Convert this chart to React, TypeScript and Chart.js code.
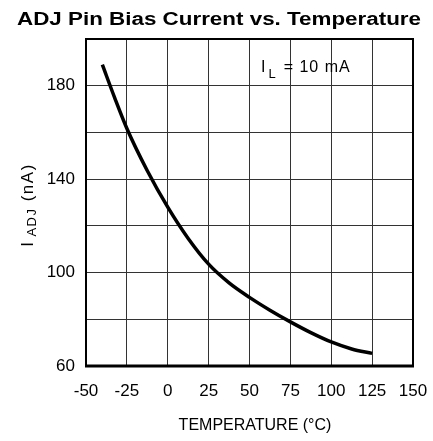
import React, { useEffect, useRef } from "react";
import { Chart, registerables } from "chart.js";

Chart.register(...registerables);

const temperatures = [-40, -32.5, -25, -12.5, 0, 12.5, 25, 37.5, 50, 62.5, 75, 87.5, 100, 112.5, 125];
const biasCurrent = [189, 174.9, 161.7, 143.6, 128, 114.6, 103.6, 95.6, 89.4, 83.9, 78.9, 74.3, 70.3, 67.3, 65.4];
const yLabeled = [60, 100, 140, 180];

const FONT = "'Liberation Sans', Arial, sans-serif";

const overlay = {
  id: "overlay",
  afterDraw(chart: any) {
    const { ctx, chartArea } = chart;
    const { left, right, top, bottom } = chartArea;
    ctx.save();
    // border
    ctx.strokeStyle = "#000";
    ctx.lineWidth = 2;
    ctx.strokeRect(left, top, right - left, bottom - top);
    ctx.lineWidth = 3;
    ctx.beginPath();
    ctx.moveTo(left - 1, bottom);
    ctx.lineTo(right + 1, bottom);
    ctx.stroke();

    ctx.fillStyle = "#000";
    // title (stretched horizontally to match reference width)
    ctx.save();
    ctx.font = `bold 18px ${FONT}`;
    ctx.textAlign = "center";
    ctx.textBaseline = "alphabetic";
    const title = "ADJ Pin Bias Current vs. Temperature";
    const tw = ctx.measureText(title).width;
    const sx = 404 / tw;
    ctx.translate(219, 25);
    ctx.scale(sx, 1);
    ctx.fillText(title, 0, 0);
    ctx.restore();

    // annotation I_L = 10 mA
    ctx.save();
    ctx.textAlign = "left";
    ctx.font = `16px ${FONT}`;
    let x = 261;
    const by = 72;
    ctx.fillText("I", x, by);
    x += ctx.measureText("I").width + 3;
    ctx.font = `13px ${FONT}`;
    ctx.fillText("L", x, by + 6);
    x += ctx.measureText("L").width + 8;
    ctx.font = `16px ${FONT}`;
    (ctx as any).letterSpacing = "1px";
    ctx.fillText("= 10 mA", x, by);
    ctx.restore();

    // x axis title
    ctx.save();
    ctx.textAlign = "center";
    ctx.font = `16px ${FONT}`;
    ctx.fillText("TEMPERATURE (\u00B0C)", 255, 430);
    ctx.restore();

    // y axis title (rotated)
    ctx.save();
    ctx.translate(33, 205);
    ctx.rotate(-Math.PI / 2);
    ctx.textAlign = "left";
    (ctx as any).letterSpacing = "1.5px";
    const parts: [string, number, number][] = [
      ["I", 17, 0],
      ["ADJ", 13, 3],
      [" (nA)", 17, 0],
    ];
    const gap = 4;
    let total = 0;
    parts.forEach(([t, s], i) => {
      ctx.font = `${s}px ${FONT}`;
      total += ctx.measureText(t).width + (i === 0 ? gap : 0);
    });
    let px = -total / 2;
    parts.forEach(([t, s, dy], i) => {
      ctx.font = `${s}px ${FONT}`;
      ctx.fillText(t, px, dy);
      px += ctx.measureText(t).width + (i === 0 ? gap : 0);
    });
    ctx.restore();

    ctx.restore();
  },
};

export default function App() {
  const ref = useRef<HTMLCanvasElement | null>(null);
  useEffect(() => {
    document.body.style.margin = "0";
    if (!ref.current) return;
    const chart = new Chart(ref.current, {
      type: "line",
      data: {
        datasets: [
          {
            data: temperatures.map((t, i) => ({ x: t, y: biasCurrent[i] })),
            borderColor: "#000",
            borderWidth: 3.5,
            pointRadius: 0,
            cubicInterpolationMode: "monotone",
            fill: false,
          },
        ],
      },
      options: {
        responsive: false,
        animation: false,
        layout: { padding: { top: 39, right: 20, left: 0, bottom: 0 } },
        plugins: { legend: { display: false }, tooltip: { enabled: false }, title: { display: false } },
        scales: {
          x: {
            type: "linear",
            min: -50,
            max: 150,
            afterFit: (s: any) => {
              s.height = 75;
              s.paddingLeft = 0;
              s.paddingRight = 0;
            },
            ticks: {
              stepSize: 25,
              padding: 15,
              color: "#000",
              font: { family: FONT, size: 17 },
              maxRotation: 0,
              autoSkip: false,
            },
            grid: { color: "#333", lineWidth: 1, drawTicks: false },
            border: { display: false },
          },
          y: {
            type: "linear",
            min: 60,
            max: 200,
            afterFit: (s: any) => {
              s.width = 86;
              s.paddingTop = 0;
              s.paddingBottom = 0;
            },
            ticks: {
              stepSize: 20,
              padding: 11,
              color: "#000",
              font: { family: FONT, size: 17 },
              callback: (v: any) => (yLabeled.includes(Number(v)) ? String(v) : ""),
            },
            grid: { color: "#333", lineWidth: 1, drawTicks: false },
            border: { display: false },
          },
        },
      },
      plugins: [overlay],
    } as any);
    return () => chart.destroy();
  }, []);
  return <canvas ref={ref} width={433} height={441} style={{ display: "block" }} />;
}
